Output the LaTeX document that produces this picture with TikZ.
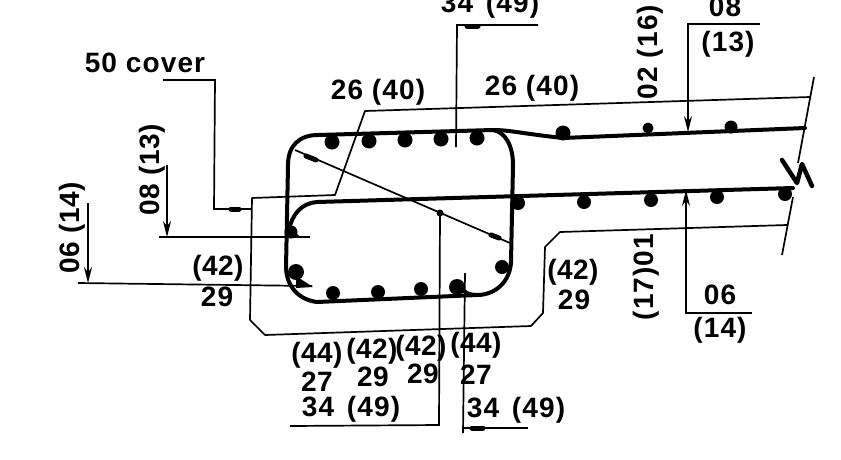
\documentclass[tikz,border=0pt]{standalone}
\usepackage{fontspec}
\setmainfont{Liberation Sans}
\newfontfamily\lblfont[LetterSpace=4,BoldFont={Liberation Sans Bold}]{Liberation Sans}
\newfontfamily\lbltight[LetterSpace=1.5,BoldFont={Liberation Sans Bold}]{Liberation Sans}
\usetikzlibrary{arrows.meta}
\tikzset{
  lbl/.style={inner sep=0pt,font=\fontsize{28}{28}\selectfont\lblfont\bfseries},
  lbltg/.style={inner sep=0pt,font=\fontsize{28}{28}\selectfont\lbltight\bfseries},
  thin line/.style={line width=1.7pt,black},
  bar line/.style={line width=4pt,black,line join=round,line cap=round},
  rebar/.style={fill=black,draw=none},
  dimtip/.style={-{Stealth[length=16pt,width=8pt]}},
  blob/.style={line width=5pt,line cap=round,black}
}
\begin{document}
\begin{tikzpicture}[x=1pt,y=-1pt]
\useasboundingbox (0,0) rectangle (841,459);
\fill[white] (0,0) rectangle (841,459);
% reinforcement
\draw[bar line] (288,165) .. controls (288,145) and (300,135) .. (318,135)
  -- (493,130) .. controls (505,132) and (513,145) .. (513,165)
  -- (511,262) .. controls (510,282) and (495,295) .. (477,295)
  .. controls (470,295) and (464,293) .. (462,288);
\draw[bar line] (477,295) -- (317,302) .. controls (300,300) and (287,288) .. (286,268) -- (288,165);
\draw[bar line] (493,130) .. controls (510,130) and (525,134) .. (563,138) -- (805,128);
\draw[bar line] (793,188) -- (317,202) .. controls (302,203) and (292,214) .. (289,230);
\draw[line width=4.5pt,line cap=round,line join=round] (782,160) -- (797,183) -- (802,164) -- (812,186);
\foreach \px/\py/\r in {332/142/7.5,369/141/7.5,405/140/7.5,441/139/7.5,477/138/7.5,
  563/133/7.5,648/128/5.5,731/127/6.5,518/203/7,584/202/7,651/200/7,717/197/7,785/194/7,
  333/293/7,378/292/7,421/289/7,457/287/8,502/267/7,296/272/8,291/232/6.5}
  \fill[rebar] (\px,\py) circle (\r);
\fill (286,222) -- (299,236) -- (286,238) -- cycle;
\fill (296,276) -- (313,287) -- (296,288) -- cycle;
% cover and breaks
\draw[thin line,line join=round] (810,97) -- (365,111) -- (335,195) -- (252,198) -- (250,320) -- (265,335) -- (531,326) -- (543,313) -- (545,247) -- (560,232) -- (787,225);
\draw[thin line] (814,77) -- (798,163);
\draw[thin line] (793,197) -- (782,255);
% diagonal
\draw[thin line] (295,150) -- (510,243);
\draw[blob] (306,156) -- (316,160);
\draw[blob] (491,235) -- (499,238);
\fill (440,213) circle (3.5);
% leaders
\coordinate (c1) at (163,80); \coordinate (c2) at (215,80);
\draw[thin line] (c1) -- (c2) -- (214,209) -- (252,209);
\draw[blob] (231,209) -- (239,209);
\draw[thin line] (440,213) -- (439,425) -- (290,426);
\draw[thin line] (465,273) -- (463,433);
\draw[thin line] (528,428) -- (463,428);
\draw[blob] (472,428) -- (483,428);
\draw[thin line] (538,25) -- (457,25) -- (456,147);
\draw[blob] (467,26) -- (478,26);
\draw[thin line,dimtip] (167,165) -- (167,237);
\draw[thin line] (159,237) -- (310,237);
\draw[thin line,dimtip] (88,203) -- (88,283);
\draw[thin line] (78,283) -- (312,286);
\draw[thin line,dimtip] (760,24) -- (688,24) -- (688,132);
\draw[thin line,dimtip] (752,313) -- (686,313) -- (686,190);
% labels
\node[lbl] (t1) at (145,63) {50 cover};
\node[lbltg,rotate=90] (t2) at (152,170) {08 (13)};
\node[lbltg,rotate=90] (t3) at (72,228) {06 (14)};
\node[lbltg] (t4) at (218,268) {(42)};
\node[lbl] (t5) at (217,297) {29};
\node[lbl] (t6) at (378,92) {26 (40)};
\node[lbl] (t7) at (532,88) {26 (40)};
\node[lbl] (t8) at (490,5) {34\hspace{4pt} (49)};
\node[lbl,rotate=90] (t9) at (650,52) {02 (16)};
\node[lbl] (t10) at (725,7) {08};
\node[lbl] (t11) at (728,44) {(13)};
\node[lbltg] (t12) at (573,272) {(42)};
\node[lbl] (t13) at (574,300) {29};
\node[lbl,rotate=90] (t14) at (646,277) {(17)01};
\node[lbl] (t15) at (720,295) {06};
\node[lbl] (t16) at (720,330) {(14)};
\node[lbltg] (t17) at (317,355) {(44)};
\node[lbltg] (t18) at (317,382) {27};
\node[lbltg] (t19) at (372,351) {(42)};
\node[lbltg] (t20) at (373,377) {29};
\node[lbltg] (t21) at (421,348) {(42)};
\node[lbltg] (t22) at (423,374) {29};
\node[lbltg] (t23) at (476,345) {(44)};
\node[lbltg] (t24) at (476,375) {27};
\node[lbl] (t25) at (351,409) {34\hspace{4pt} (49)};
\node[lbl] (t26) at (516,410) {34\hspace{4pt} (49)};
\end{tikzpicture}
\end{document}
